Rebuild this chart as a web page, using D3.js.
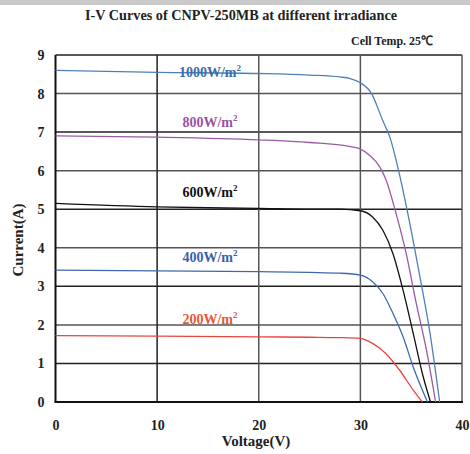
<!DOCTYPE html>
<html>
<head>
<meta charset="utf-8">
<script src="https://cdn.jsdelivr.net/npm/d3@7"></script>
<style>
  body { margin: 0; background: #fff; }
  text { font-family: "Liberation Serif", "Times New Roman", serif; font-weight: bold; }
</style>
</head>
<body>
<div id="chart"></div>
<script>
// voltage samples (V) for each curve
const volts1000 = [0, 10, 20, 25, 28, 29, 30, 31.1, 32.2, 32.9, 33.9, 34.8, 35.8, 36.8, 37.8];
const amps1000  = [8.6, 8.55, 8.52, 8.48, 8.43, 8.39, 8.28, 8.0, 7.3, 6.87, 5.84, 4.72, 3.33, 1.87, 0];

const volts800 = [0, 10, 20, 25, 28.9, 29.9, 30.9, 31.9, 32.5, 33.5, 34.5, 35.5, 36.5, 37.4];
const amps800  = [6.9, 6.87, 6.8, 6.73, 6.63, 6.57, 6.4, 6.1, 5.78, 4.9, 3.86, 2.56, 1.35, 0];

const volts600 = [0, 10, 20, 25, 28, 30, 31.2, 32.2, 33.2, 34.2, 35.2, 36.1, 36.9];
const amps600  = [5.15, 5.06, 5.02, 5.0, 5.0, 4.96, 4.8, 4.46, 3.85, 2.9, 1.78, 0.74, 0];

const volts400 = [0, 10, 20, 25, 28, 30, 31.2, 32.2, 33.2, 34.2, 35.2, 36.6];
const amps400  = [3.42, 3.4, 3.38, 3.36, 3.34, 3.29, 3.12, 2.82, 2.3, 1.69, 0.91, 0];

const volts200 = [0, 10, 20, 25, 28, 30, 31.2, 32.5, 33.85, 35.2, 36.1];
const amps200  = [1.72, 1.71, 1.69, 1.68, 1.67, 1.65, 1.52, 1.26, 0.83, 0.31, 0];

const seriesNames = ["1000W/m", "800W/m", "600W/m", "400W/m", "200W/m"];
const xTicks = [0, 10, 20, 30, 40];
const yTicks = [0, 1, 2, 3, 4, 5, 6, 7, 8, 9];

const width = 470, height = 454;
const svg = d3.select("#chart").append("svg")
  .attr("width", width).attr("height", height);

// grey strip at the very top
svg.append("rect").attr("x", 0).attr("y", 0).attr("width", width).attr("height", 5).attr("fill", "#c9c9c9");

const x = d3.scaleLinear().domain([0, 40]).range([55.5, 462]);
const y = d3.scaleLinear().domain([0, 9]).range([402, 55]);

// gridlines
svg.append("g")
  .selectAll("line")
  .data(yTicks.slice(1))
  .join("line")
  .attr("x1", x(0)).attr("x2", x(40))
  .attr("y1", (d) => y(d)).attr("y2", (d) => y(d))
  .attr("stroke", (d) => (d % 2 ? "#222" : "#555"))
  .attr("stroke-width", 1.5);

svg.append("g")
  .selectAll("line")
  .data(xTicks.slice(1))
  .join("line")
  .attr("x1", (d) => x(d)).attr("x2", (d) => x(d))
  .attr("y1", y(0)).attr("y2", y(9))
  .attr("stroke", (d) => (d === 10 ? "#222" : "#555"))
  .attr("stroke-width", 1.5);

// axis lines
svg.append("line").attr("x1", x(0)).attr("x2", x(0)).attr("y1", y(0)).attr("y2", y(9))
  .attr("stroke", "#111").attr("stroke-width", 2);
svg.append("line").attr("x1", x(0) - 1).attr("x2", x(40) + 1).attr("y1", y(0)).attr("y2", y(0))
  .attr("stroke", "#111").attr("stroke-width", 2);

// tick labels
const xAxis = svg.append("g")
  .attr("transform", `translate(0,${y(0)})`)
  .call(d3.axisBottom(x).tickValues(xTicks).tickSize(0).tickPadding(18).tickFormat(d3.format("d")));
xAxis.select(".domain").remove();
xAxis.selectAll("text").attr("font-size", 14).attr("fill", "#222")
  .style("font-family", "Liberation Serif").style("font-weight", "bold");

const yAxis = svg.append("g")
  .attr("transform", `translate(${x(0)},0)`)
  .call(d3.axisLeft(y).tickValues(yTicks).tickSize(0).tickPadding(11).tickFormat(d3.format("d")));
yAxis.select(".domain").remove();
yAxis.selectAll("text").attr("font-size", 14).attr("fill", "#222")
  .style("font-family", "Liberation Serif").style("font-weight", "bold");

// curves
const series = [
  { name: seriesNames[0], v: volts1000, a: amps1000, color: "#4f7fb8", label: "#3b6ea9", lift: -0.13 },
  { name: seriesNames[1], v: volts800, a: amps800, color: "#9a5aa4", label: "#9a52a5", lift: 0.25 },
  { name: seriesNames[2], v: volts600, a: amps600, color: "#111", label: "#111", lift: 0.25 },
  { name: seriesNames[3], v: volts400, a: amps400, color: "#4068b2", label: "#3b5fa8", lift: 0.23 },
  { name: seriesNames[4], v: volts200, a: amps200, color: "#e9453f", label: "#e85736", lift: 0.31 },
];

const line = d3.line()
  .x((d) => x(d[0]))
  .y((d) => y(d[1]))
  .curve(d3.curveMonotoneX);

series.forEach((s) => {
  const pts = s.v.map((v, i) => [v, s.a[i]]);
  svg.append("path")
    .attr("d", line(pts))
    .attr("fill", "none")
    .attr("stroke", s.color)
    .attr("stroke-width", 1.3);

  const t = svg.append("text")
    .attr("x", x(15.2))
    .attr("y", y(s.a[1] + s.lift))
    .attr("text-anchor", "middle")
    .attr("font-size", 14)
    .attr("fill", s.label);
  t.append("tspan").text(s.name);
  t.append("tspan").text("2").attr("font-size", 9).attr("dy", -6);
});

// titles
svg.append("text")
  .attr("x", 241).attr("y", 20)
  .attr("text-anchor", "middle")
  .attr("font-size", 15.5)
  .attr("fill", "#222")
  .attr("textLength", 312)
  .attr("lengthAdjust", "spacingAndGlyphs")
  .text("I-V Curves of CNPV-250MB at different irradiance");

svg.append("text")
  .attr("x", 433).attr("y", 45)
  .attr("text-anchor", "end")
  .attr("font-size", 13)
  .attr("fill", "#222")
  .attr("textLength", 82)
  .attr("lengthAdjust", "spacingAndGlyphs")
  .text("Cell Temp. 25℃");

svg.append("text")
  .attr("x", 256).attr("y", 446)
  .attr("text-anchor", "middle")
  .attr("font-size", 15)
  .attr("fill", "#222")
  .text("Voltage(V)");

svg.append("text")
  .attr("transform", "translate(23,240) rotate(-90)")
  .attr("text-anchor", "middle")
  .attr("font-size", 15)
  .attr("fill", "#222")
  .text("Current(A)");
</script>
</body>
</html>
